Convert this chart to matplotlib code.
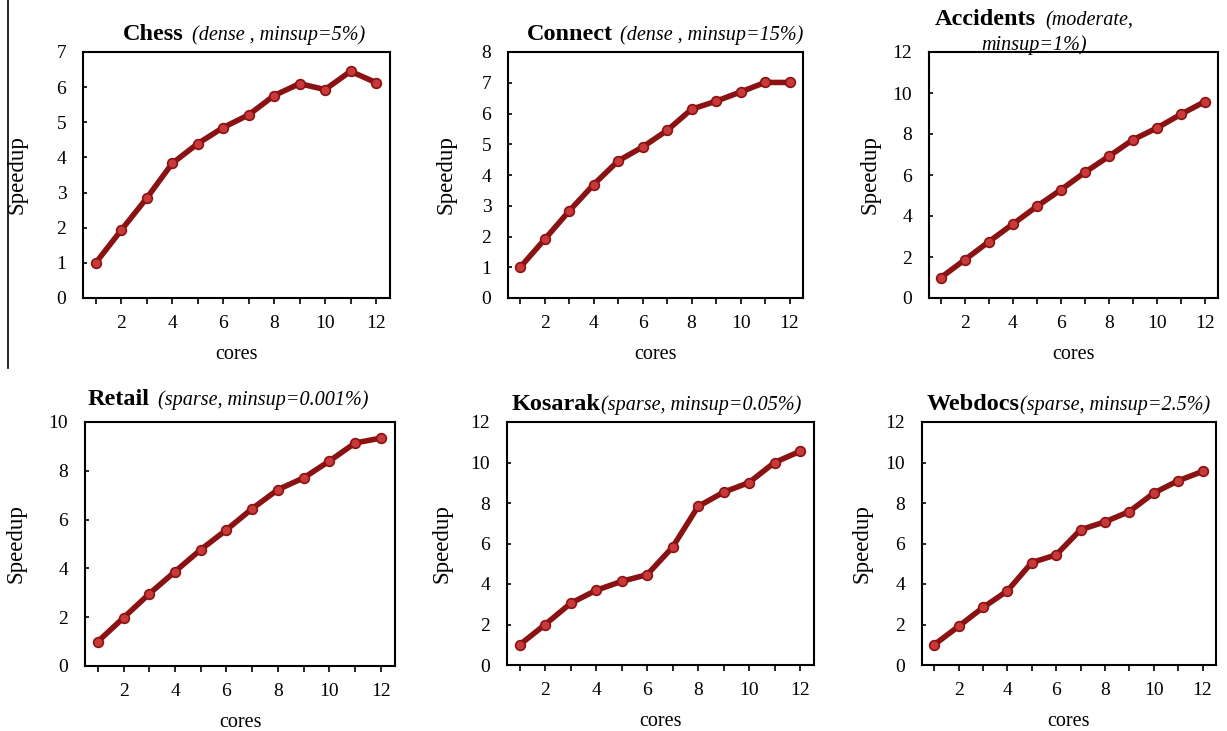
import matplotlib.pyplot as plt
from matplotlib.lines import Line2D

plt.rcParams['font.family'] = ['Liberation Serif', 'DejaVu Serif']

cores = list(range(1, 13))

chess = [1.0, 1.93, 2.84, 3.83, 4.39, 4.85, 5.21, 5.76, 6.1, 5.93, 6.45, 6.13]
connect = [1.0, 1.91, 2.83, 3.69, 4.46, 4.91, 5.45, 6.14, 6.4, 6.7, 7.01, 7.01]
accidents = [1.0, 1.87, 2.75, 3.61, 4.47, 5.28, 6.13, 6.91, 7.72, 8.29, 8.96, 9.58]
retail = [1.0, 1.98, 2.96, 3.87, 4.77, 5.58, 6.45, 7.23, 7.71, 8.4, 9.14, 9.34]
kosarak = [1.0, 2.0, 3.05, 3.69, 4.13, 4.46, 5.82, 7.83, 8.53, 9.01, 10.0, 10.55]
webdocs = [1.0, 1.91, 2.84, 3.66, 5.06, 5.44, 6.68, 7.07, 7.58, 8.49, 9.1, 9.56]

names = ['Chess', 'Connect', 'Accidents', 'Retail', 'Kosarak', 'Webdocs']
notes = ['(dense , minsup=5%)', '(dense , minsup=15%)', '(moderate,',
         '(sparse, minsup=0.001%)', '(sparse, minsup=0.05%)', '(sparse, minsup=2.5%)']
series = [chess, connect, accidents, retail, kosarak, webdocs]
yticks = [range(0, 8), range(0, 9), range(0, 13, 2),
          range(0, 11, 2), range(0, 13, 2), range(0, 13, 2)]

W, H = 1227, 731
# axes boxes in pixels: left, top, right, bottom
boxes = [(83, 52, 390, 298), (508, 52, 803, 298), (929, 52, 1218, 298),
         (85, 422, 395, 666), (507, 422, 814, 665), (922, 422, 1216, 665)]
# title: bold x (px), baseline (px), gap to italic (px)
titles = [(123, 40, 8), (527, 40, 7), (935, 25, 9),
          (88, 405, 8), (512, 410, 0), (927, 410, 0)]
ylab_off = [56, 51, 49, 58, 55, 50]

line_c = '#8a1212'
face_c = '#c83a3a'

fig = plt.figure(figsize=(W / 100, H / 100), dpi=100)

for i in range(6):
    l, t, r, b = boxes[i]
    w, h = r - l, b - t
    ax = fig.add_axes([l / W, (H - b) / H, w / W, h / H])
    ax.plot(cores, series[i], color=line_c, lw=4, marker='o', ms=7,
            mfc=face_c, mec=line_c, mew=1.2, clip_on=False, zorder=3)
    ax.set_xlim(0.5, 12.55)
    yt = list(yticks[i])
    ax.set_ylim(0, yt[-1])
    ax.set_yticks(yt)
    ax.set_xticks(cores)
    ax.set_xticklabels([str(c) if c % 2 == 0 else '' for c in cores])
    ax.tick_params(axis='x', direction='out', length=4, width=1.2, pad=8,
                   labelsize=14)
    ax.tick_params(axis='y', direction='in', length=3, width=1.2, pad=12,
                   labelsize=14)
    for s in ax.spines.values():
        s.set_linewidth(1.5)
    ax.set_ylabel('Speedup', fontsize=16.5)
    ax.yaxis.set_label_coords(-ylab_off[i] / w, 0.5)
    ax.set_xlabel('cores', fontsize=14.5)
    ax.xaxis.set_label_coords(0.5, -47 / h)

    bx, by, gap = titles[i]
    yb = 1 + (t - by) / h
    bt = ax.text((bx - l) / w, yb, names[i], transform=ax.transAxes,
                 fontsize=17.5, fontweight='bold', va='baseline', ha='left')
    ax.annotate(notes[i], xy=(1, yb), xycoords=(bt, 'axes fraction'),
                xytext=(gap, 0), textcoords='offset pixels',
                fontsize=14.5, fontstyle='italic', va='baseline', ha='left')
    if names[i] == 'Accidents':
        ax.text((981 - l) / w, 1 + (t - 50) / h, 'minsup=1%)',
                transform=ax.transAxes, fontsize=14.5, fontstyle='italic',
                va='baseline', ha='left')

# stray vertical rule at the left edge of the scanned figure
fig.add_artist(Line2D([8 / W, 8 / W], [1, 1 - 368 / H], color='black',
                      lw=1.2, transform=fig.transFigure))

fig.savefig('out.png', dpi=100)
